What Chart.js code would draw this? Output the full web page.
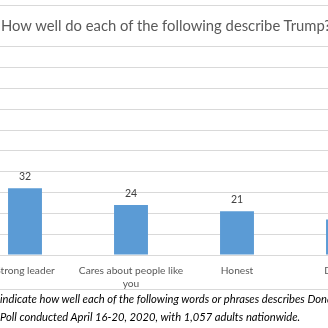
<!DOCTYPE html>
<html>
<head>
<meta charset="utf-8">
<script src="https://cdn.jsdelivr.net/npm/chart.js@4"></script>
<style>
  html, body { margin: 0; padding: 0; background: #fff; }
  body { width: 328px; height: 328px; overflow: hidden; position: relative; font-family: Lato, "Open Sans", sans-serif; }
  #wrap { position: absolute; left: -28px; top: 0; width: 424px; height: 290px; }
  #title { position: absolute; left: 1px; top: 16px; white-space: nowrap; font-size: 14.8px; color: #595959; z-index: 2; }
  #note { position: absolute; left: 0; top: 289px; width: 328px; border-top: 1px solid #d9d9d9;
          font-style: italic; font-size: 11.2px; line-height: 18px; color: #000; white-space: nowrap; padding-top: 0px; }
</style>
</head>
<body>
<div id="wrap"><canvas id="myChart"></canvas></div>
<div id="title">How well do each of the following describe Trump?</div>
<div id="note">indicate how well each of the following words or phrases describes Donald Trump<br>Poll conducted April 16-20, 2020, with 1,057 adults nationwide.</div>
<script>
const categories = ['Strong leader', ['Cares about people like', 'you'], 'Honest', 'Decisive'];
const values = [32, 24, 21, 17];
const yMin = 0;
const yMax = 120;
const yStep = 10;

// value labels above each bar
const barValues = {
  id: 'barValues',
  afterDatasetsDraw(chart) {
    const ctx = chart.ctx;
    const meta = chart.getDatasetMeta(0);
    ctx.save();
    ctx.font = '10.5px Lato, sans-serif';
    ctx.fillStyle = '#404040';
    ctx.textAlign = 'center';
    ctx.textBaseline = 'bottom';
    meta.data.forEach((bar, i) => {
      ctx.fillText(String(values[i]), bar.x, bar.y - 6);
    });
    ctx.restore();
  }
};

document.addEventListener('DOMContentLoaded', () => {
  const canvas = document.getElementById('myChart');
  const ctx = canvas.getContext('2d');

  new Chart(ctx, {
    type: 'bar',
    data: {
      labels: categories,
      datasets: [{
        data: values,
        backgroundColor: '#5b9bd5',
        barPercentage: 1,
        categoryPercentage: 0.32
      }]
    },
    options: {
      responsive: true,
      maintainAspectRatio: false,
      animation: false,
      layout: { padding: { top: 5, left: 0, right: 0, bottom: 0 } },
      plugins: {
        legend: { display: false },
        tooltip: { enabled: false }
      },
      scales: {
        x: {
          grid: { display: false },
          border: { display: false },
          ticks: {
            color: '#595959',
            font: { family: 'Lato', size: 10.2, lineHeight: 1.3 },
            maxRotation: 0,
            autoSkip: false,
            padding: 1
          },
          afterFit: s => { s.height = 35; }
        },
        y: {
          min: yMin,
          max: yMax,
          ticks: { display: false, stepSize: yStep },
          grid: {
            drawTicks: false,
            color: c => (c.tick && c.tick.value === 110) ? 'rgba(0,0,0,0)' : '#d9d9d9'
          },
          border: { display: false },
          afterFit: s => { s.width = 0; }
        }
      }
    },
    plugins: [barValues]
  });
});
</script>
</body>
</html>
